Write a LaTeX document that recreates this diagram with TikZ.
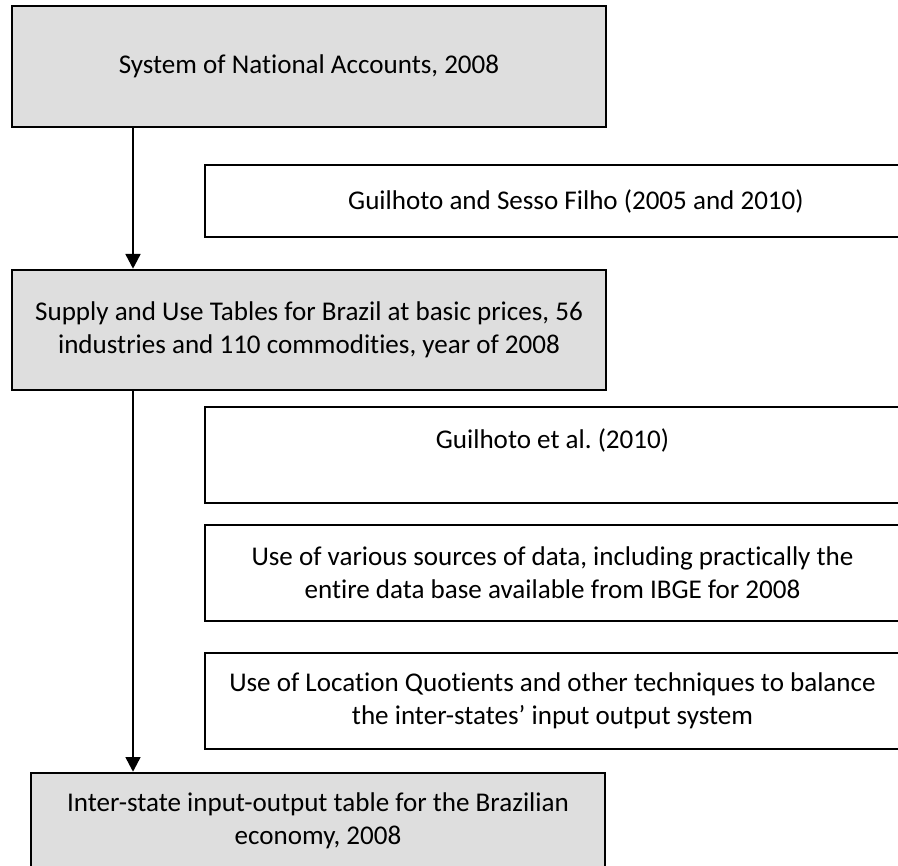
\documentclass[tikz,border=0pt]{standalone}
\usepackage{fontspec}
\setmainfont{Carlito}[Ligatures={NoCommon,NoContextual}]
\usetikzlibrary{arrows.meta}

\begin{document}
\begin{tikzpicture}[
  x=0.4065pt, y=-0.4065pt,
  font=\fontsize{11}{13.4}\selectfont,
  mainbox/.style={draw, line width=1pt, fill=boxgray, inner sep=0pt, align=center},
  sidebox/.style={draw, line width=1pt, fill=white, inner sep=0pt, align=center,
    minimum width=282.5pt, minimum height=39pt},
  flow/.style={line width=1pt, -{Triangle[length=6pt, width=6pt]}}
]
  \definecolor{boxgray}{HTML}{DEDEDE}
  \useasboundingbox (0,0) rectangle (898,866);
  \clip (0,0) rectangle (898,866);

  \node[mainbox, minimum width=241.5pt, minimum height=49.2pt] (sna) at (309,66.5) {System of National Accounts, 2008};

  \node[sidebox, minimum width=301.6pt, minimum height=29.3pt] (gsf) at (576,201) {Guilhoto and Sesso Filho (2005 and 2010)};

  \node[mainbox, minimum width=241.5pt, minimum height=48.8pt] (sut) at (309,330) {Supply and Use Tables for Brazil at basic prices, 56\\industries and 110 commodities, year of 2008};

  % text sits near the top of these boxes, so an empty line pads them
  \node[sidebox] (gea) at (552.5,455) {Guilhoto et al.\ (2010)\\~};
  \node[sidebox] (ibge) at (552.5,573) {Use of various sources of data, including practically the\\entire data base available from IBGE for 2008};
  \node[sidebox] (lq) at (552.5,701) {Use of Location Quotients and other techniques to balance\\the inter-states' input output system};

  \node[mainbox, minimum width=233.3pt, minimum height=50.4pt] (iio) at (318,835) {Inter-state input-output table for the Brazilian\\economy, 2008\\~};

  \coordinate (spine) at (133,0);
  \draw[flow] (sna.south -| spine) -- (sut.north -| spine);
  \draw[flow] (sut.south -| spine) -- (iio.north -| spine);

\end{tikzpicture}
\end{document}
